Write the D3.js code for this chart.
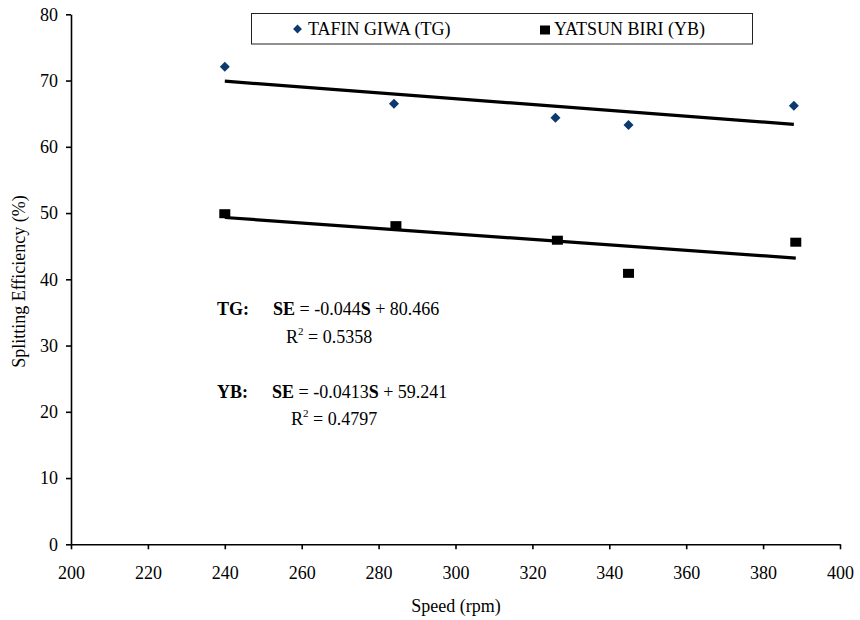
<!DOCTYPE html>
<html>
<head>
<meta charset="utf-8">
<script src="https://cdn.jsdelivr.net/npm/d3@7/dist/d3.min.js"></script>
<style>
  html, body { margin: 0; padding: 0; background: #fff; }
  svg text { font-family: "Liberation Serif", "Times New Roman", Times, "DejaVu Serif", serif; }
</style>
</head>
<body>
<svg id="chart" width="860" height="620"></svg>
<script>
// Splitting efficiency of two varieties against machine speed
const seriesNames = ["TAFIN GIWA (TG)", "YATSUN BIRI (YB)"];
const seriesCodes = ["TG", "YB"];
const speedTG = [240, 284, 326, 345, 388];
const valuesTG = [72.1, 66.5, 64.4, 63.3, 66.2];
const speedYB = [240, 284.5, 326.5, 345, 388.5];
const valuesYB = [49.9, 48.1, 45.9, 40.9, 45.6];

// Linear fits: SE = slope * S + intercept
const fitSlope = [-0.044, -0.0413];
const fitIntercept = [80.466, 59.241];
const fitR2 = ["0.5358", "0.4797"];

const xTicks = [200, 220, 240, 260, 280, 300, 320, 340, 360, 380, 400];
const yTicks = [0, 10, 20, 30, 40, 50, 60, 70, 80];

const serif = "'Liberation Serif', 'Times New Roman', Times, 'DejaVu Serif', serif";
const svg = d3.select("#chart").attr("font-family", serif);

const x = d3.scaleLinear().domain([200, 400]).range([71, 840]);
const y = d3.scaleLinear().domain([0, 80]).range([544.3, 14.3]);

// Axes
const xAxis = svg.append("g")
  .attr("transform", `translate(0,${y(0)})`)
  .call(d3.axisBottom(x).tickValues(xTicks).tickSize(5).tickPadding(17).tickSizeOuter(0));
const yAxis = svg.append("g")
  .attr("transform", `translate(${x(200)},0)`)
  .call(d3.axisLeft(y).tickValues(yTicks).tickSize(5).tickPadding(8).tickSizeOuter(0));

[xAxis, yAxis].forEach(g => {
  g.attr("font-family", serif).attr("font-size", 18);
  g.select(".domain").attr("stroke", "#000").attr("stroke-width", 1.6);
  g.selectAll(".tick line").attr("stroke", "#000").attr("stroke-width", 1.6);
  g.selectAll(".tick text").attr("fill", "#000");
});

// Axis titles
svg.append("text")
  .attr("transform", "translate(25,281.5) rotate(-90)")
  .attr("text-anchor", "middle")
  .attr("font-size", 18)
  .text("Splitting Efficiency (%)");

svg.append("text")
  .attr("x", 456).attr("y", 612)
  .attr("text-anchor", "middle")
  .attr("font-size", 18)
  .text("Speed (rpm)");

// Trend lines
const seriesSpeeds = [speedTG, speedYB];
seriesSpeeds.forEach((sp, i) => {
  const x0 = d3.min(sp), x1 = d3.max(sp);
  const f = s => fitSlope[i] * s + fitIntercept[i];
  svg.append("line")
    .attr("x1", x(x0)).attr("y1", y(f(x0)))
    .attr("x2", x(x1)).attr("y2", y(f(x1)))
    .attr("stroke", "#000")
    .attr("stroke-width", 3.2);
});

// TG markers (diamonds)
const diamond = d3.symbol().type(d3.symbolDiamond2).size(64);
const tgColor = "#0b3a6e";
svg.append("g").selectAll("path")
  .data(speedTG.map((s, i) => [s, valuesTG[i]]))
  .join("path")
  .attr("transform", d => `translate(${x(d[0])},${y(d[1])})`)
  .attr("d", diamond)
  .attr("fill", tgColor);

// YB markers (squares)
svg.append("g").selectAll("rect")
  .data(speedYB.map((s, i) => [s, valuesYB[i]]))
  .join("rect")
  .attr("x", d => x(d[0]) - 5.5)
  .attr("y", d => y(d[1]) - 4.5)
  .attr("width", 11)
  .attr("height", 9)
  .attr("fill", "#000");

// Legend
const legend = svg.append("g");
legend.append("rect")
  .attr("x", 251.5).attr("y", 13.5)
  .attr("width", 501).attr("height", 30.5)
  .attr("fill", "#fff")
  .attr("stroke", "#222")
  .attr("stroke-width", 1);
legend.append("path")
  .attr("transform", "translate(297.5,29)")
  .attr("d", d3.symbol().type(d3.symbolDiamond2).size(50))
  .attr("fill", tgColor);
legend.append("text")
  .attr("x", 308).attr("y", 35)
  .attr("font-size", 18)
  .text(seriesNames[0]);
legend.append("rect")
  .attr("x", 540).attr("y", 25.5)
  .attr("width", 10).attr("height", 9)
  .attr("fill", "#000");
legend.append("text")
  .attr("x", 554).attr("y", 35)
  .attr("font-size", 18)
  .text(seriesNames[1]);

// Regression equations
const eqPos = [
  { label: 217, se: 273, r: 286, base: 315, rBase: 343 },
  { label: 217, se: 272, r: 291, base: 398, rBase: 425 }
];
seriesCodes.forEach((code, i) => {
  const p = eqPos[i];
  svg.append("text")
    .attr("x", p.label).attr("y", p.base)
    .attr("font-size", 18).attr("font-weight", "bold")
    .text(code + ":");
  const eq = svg.append("text")
    .attr("x", p.se).attr("y", p.base)
    .attr("font-size", 18);
  eq.append("tspan").attr("font-weight", "bold").text("SE");
  eq.append("tspan").text(" = " + fitSlope[i]);
  eq.append("tspan").attr("font-weight", "bold").text("S");
  eq.append("tspan").text(" + " + fitIntercept[i]);
  const r = svg.append("text")
    .attr("x", p.r).attr("y", p.rBase)
    .attr("font-size", 18);
  r.append("tspan").text("R");
  r.append("tspan").attr("dy", -8).attr("font-size", 11).text("2");
  r.append("tspan").attr("dy", 8).text(" = " + fitR2[i]);
});
</script>
</body>
</html>
